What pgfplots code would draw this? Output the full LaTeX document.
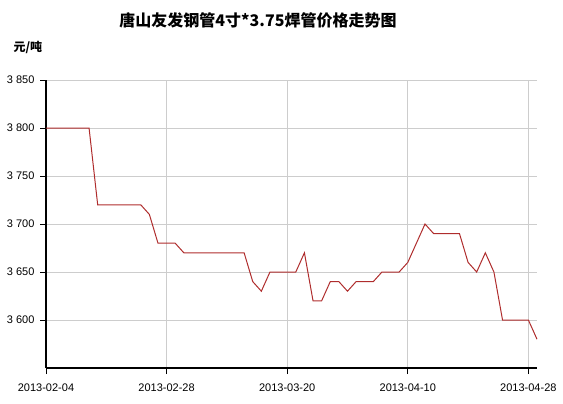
\documentclass[border=0pt]{standalone}
\usepackage{pgfplots}
\pgfplotsset{compat=1.18}
\usepackage{fontspec}
\setmainfont{Liberation Sans}
\newfontfamily\cjk{Noto Sans CJK SC}
\definecolor{linered}{RGB}{175,45,45}
\definecolor{gridgray}{RGB}{205,205,205}
\begin{document}
\begin{tikzpicture}
\path[use as bounding box] (0,0) rectangle (563pt,-404pt);
\node[font=\cjk\bfseries\fontsize{16}{18}\selectfont] at (258pt,-20pt) {唐山友发钢管4寸*3.75焊管价格走势图};
\node[font=\cjk\bfseries\fontsize{12}{14}\selectfont, anchor=west] at (10pt,-47pt) {元/吨};
\begin{axis}[
  at={(46pt,-368pt)}, anchor=south west,
  scale only axis, width=491pt, height=288pt,
  xmin=0, xmax=57, ymin=3550, ymax=3850,
  axis lines*=left,
  axis line style={line width=1.6pt, black, -},
  xtick={0,14,28,42,56},
  xticklabels={2013-02-04,2013-02-28,2013-03-20,2013-04-10,2013-04-28},
  ytick={3600,3650,3700,3750,3800,3850},
  yticklabels={3 600,3 650,3 700,3 750,3 800,3 850},
  tick style={black, line width=0.7pt},
  tick align=outside,
  major tick length=6pt,
  xmajorgrids, ymajorgrids,
  grid style={gridgray, line width=0.6pt},
  tick label style={font=\fontsize{11}{13}\selectfont},
  xticklabel style={yshift=-6pt},
  yticklabel style={xshift=-2pt},
  clip=false,
]
\addplot[linered, line width=1pt, mark=none] coordinates {
(0,3800)(1,3800)(2,3800)(3,3800)(4,3800)(5,3800)
(6,3720)(7,3720)(8,3720)(9,3720)(10,3720)(11,3720)
(12,3710)
(13,3680)(14,3680)(15,3680)
(16,3670)(17,3670)(18,3670)(19,3670)(20,3670)(21,3670)(22,3670)(23,3670)
(24,3640)(25,3630)
(26,3650)(27,3650)(28,3650)(29,3650)
(30,3670)(31,3620)(32,3620)(33,3640)(34,3640)(35,3630)
(36,3640)(37,3640)(38,3640)
(39,3650)(40,3650)(41,3650)
(42,3660)(43,3680)(44,3700)
(45,3690)(46,3690)(47,3690)(48,3690)
(49,3660)(50,3650)(51,3670)(52,3650)
(53,3600)(54,3600)(55,3600)(56,3600)(57,3580)
};
\end{axis}
\end{tikzpicture}
\end{document}
